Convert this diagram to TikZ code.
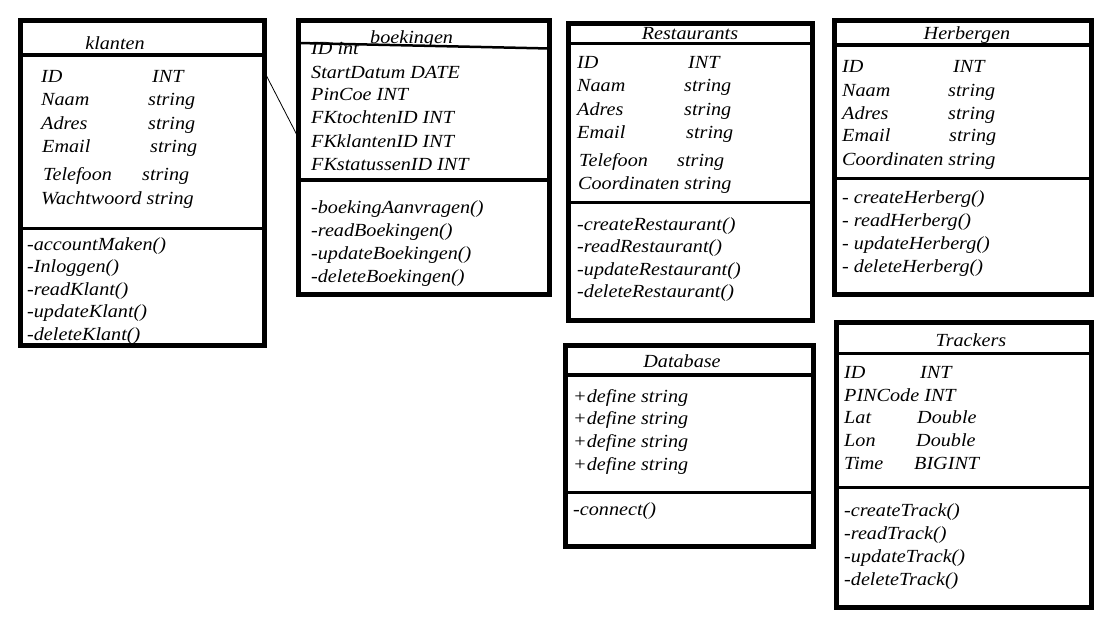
\documentclass[tikz,border=0pt]{standalone}
\usepackage{fontspec}
\setmainfont{Liberation Serif}[FakeStretch=1.09]
\usepackage{tikz}
\tikzstyle{classbox} = [draw, line width=5pt, inner sep=0pt, outer sep=0pt, anchor=north west]
\tikzstyle{divider} = [line width=3.5pt]
\tikzstyle{member} = [anchor=base west, inner sep=0pt, font=\fontsize{18.5}{22}\selectfont\itshape]
\tikzstyle{title} = [member, anchor=base]

\begin{document}
\begin{tikzpicture}[x=1pt,y=-1pt]
\useasboundingbox (0,0) rectangle (1104,626);

% klanten
\node[classbox, minimum width=244pt, minimum height=325pt] (klanten) at (20.5,20.5) {};
\draw[divider] (klanten.west |- 0,55) -- (klanten.east |- 0,55);
\draw[divider] (klanten.west |- 0,228.5) -- (klanten.east |- 0,228.5);
\node[title] (klanten-title) at (115,50) {klanten};
\foreach \nx/\nm/\tx/\ty/\yy [count=\i] in {41/ID/152/INT/83, 41/Naam/148/string/106, 41/Adres/148/string/129, 42/Email/150/string/152, 43/Telefoon/142/string/180}{
    \node[member] (klanten-n\i) at (\nx,\yy) {\nm};
    \node[member] (klanten-t\i) at (\tx,\yy) {\ty};
}
\node[member] (klanten-n6) at (41,204) {Wachtwoord string};
\foreach \m/\yy [count=\i] in {accountMaken/250, Inloggen/272.5, readKlant/295, updateKlant/317.5, deleteKlant/340}
    \node[member] (klanten-m\i) at (27,\yy) {-\m()};

% boekingen
\node[classbox, minimum width=251pt, minimum height=274pt] (boekingen) at (298.5,20.5) {};
\draw[divider, line width=2.5pt] (boekingen.west |- 0,43) -- (boekingen.east |- 0,48.5);
\draw[divider] (boekingen.west |- 0,180) -- (boekingen.east |- 0,180);
\node[member] (boekingen-title) at (370,44) {boekingen};
\foreach \a/\yy [count=\i] in {ID int/55, StartDatum DATE/78, PinCoe INT/101, FKtochtenID INT/124, FKklantenID INT/147, FKstatussenID INT/170}
    \node[member] (boekingen-a\i) at (311,\yy) {\a};
\foreach \m/\yy [count=\i] in {boekingAanvragen/213.5, readBoekingen/236.5, updateBoekingen/259.5, deleteBoekingen/282.5}
    \node[member] (boekingen-m\i) at (311,\yy) {-\m()};

\draw[line width=0.8pt] (klanten.east |- 0,72) -- (boekingen.west |- 0,138);

% Restaurants
\node[classbox, minimum width=244pt, minimum height=296.5pt] (restaurants) at (568.5,24) {};
\draw[divider] (restaurants.west |- 0,43.5) -- (restaurants.east |- 0,43.5);
\draw[divider] (restaurants.west |- 0,202.5) -- (restaurants.east |- 0,202.5);
\node[title] (restaurants-title) at (690,40) {Restaurants};
\foreach \nx/\nm/\tx/\ty/\yy [count=\i] in {577/ID/688/INT/69, 577/Naam/684/string/92, 577/Adres/684/string/115, 577/Email/686/string/138, 579/Telefoon/677/string/166}{
    \node[member] (restaurants-n\i) at (\nx,\yy) {\nm};
    \node[member] (restaurants-t\i) at (\tx,\yy) {\ty};
}
\node[member] (restaurants-n6) at (578,189) {Coordinaten string};
\foreach \m/\yy [count=\i] in {createRestaurant/230, readRestaurant/252.5, updateRestaurant/275, deleteRestaurant/297.5}
    \node[member] (restaurants-m\i) at (577,\yy) {-\m()};

% Herbergen
\node[classbox, minimum width=257.5pt, minimum height=274pt] (herbergen) at (834,20.5) {};
\draw[divider] (herbergen.west |- 0,45) -- (herbergen.east |- 0,45);
\draw[divider] (herbergen.west |- 0,178.5) -- (herbergen.east |- 0,178.5);
\node[title] (herbergen-title) at (967,40) {Herbergen};
\foreach \nx/\nm/\tx/\ty/\yy [count=\i] in {842/ID/953/INT/73, 842/Naam/948/string/96, 842/Adres/948/string/119, 842/Email/949/string/142}{
    \node[member] (herbergen-n\i) at (\nx,\yy) {\nm};
    \node[member] (herbergen-t\i) at (\tx,\yy) {\ty};
}
\node[member] (herbergen-n5) at (842,165) {Coordinaten string};
\foreach \m/\yy [count=\i] in {createHerberg/203, readHerberg/226, updateHerberg/249, deleteHerberg/272}
    \node[member] (herbergen-m\i) at (842,\yy) {- \m()};

% Database
\node[classbox, minimum width=248pt, minimum height=201.5pt] (database) at (565,345) {};
\draw[divider] (database.west |- 0,375) -- (database.east |- 0,375);
\draw[divider] (database.west |- 0,492.5) -- (database.east |- 0,492.5);
\node[title] (database-title) at (682,367) {Database};
\foreach \yy [count=\i] in {402, 424.5, 447, 470}
    \node[member] (database-a\i) at (573,\yy) {+define string};
\node[member] (database-m1) at (573,515) {-connect()};

% Trackers
\node[classbox, minimum width=255pt, minimum height=285pt] (trackers) at (836.5,322.5) {};
\draw[divider] (trackers.west |- 0,353.5) -- (trackers.east |- 0,353.5);
\draw[divider] (trackers.west |- 0,487.5) -- (trackers.east |- 0,487.5);
\node[title] (trackers-title) at (971,346) {Trackers};
\foreach \nx/\nm/\tx/\ty/\yy [count=\i] in {844/ID/920/INT/378, 844/Lat/917/Double/423.5, 844/Lon/916/Double/446.5, 844/Time/914/BIGINT/469}{
    \node[member] (trackers-n\i) at (\nx,\yy) {\nm};
    \node[member] (trackers-t\i) at (\tx,\yy) {\ty};
}
\node[member] (trackers-n5) at (844,401) {PINCode INT};
\foreach \m/\yy [count=\i] in {createTrack/516, readTrack/539, updateTrack/562, deleteTrack/585}
    \node[member] (trackers-m\i) at (844,\yy) {-\m()};
\end{tikzpicture}
\end{document}
